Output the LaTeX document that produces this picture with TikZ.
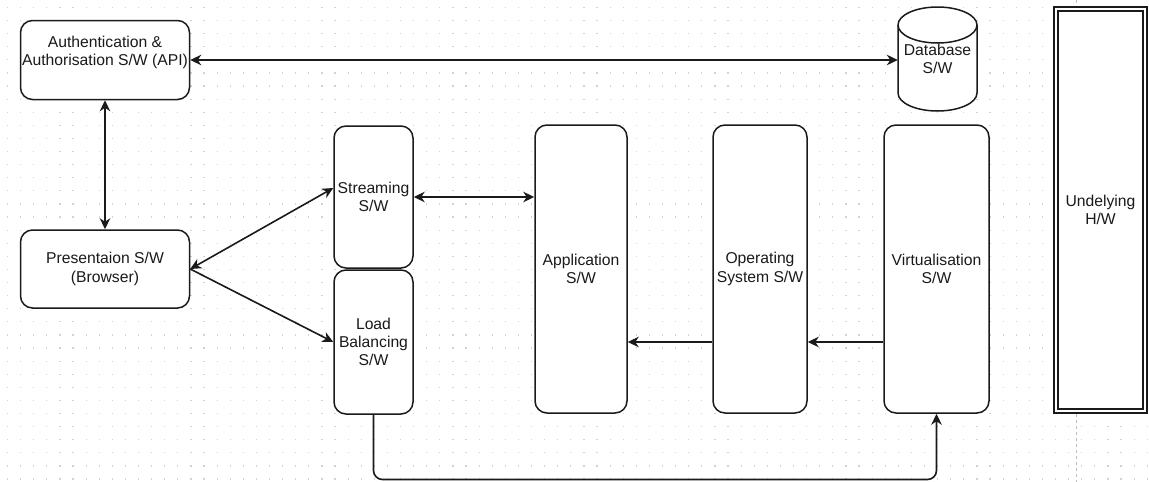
\documentclass[tikz,border=0pt]{standalone}
\usepackage{fontspec}
\setmainfont{Liberation Sans}
\usetikzlibrary{arrows.meta}
\definecolor{gridc}{HTML}{D2D2D2}
\definecolor{pagec}{HTML}{BDBDBD}
\definecolor{inkc}{HTML}{1A1A1A}
\begin{document}
\begin{tikzpicture}[x=1pt,y=-1pt,
  lbl/.style={align=center, font=\fontsize{15.7}{18.3}\selectfont, text=inkc, inner sep=0pt},
  box/.style={lbl, draw=inkc, fill=white, line width=1.5pt, rounded corners=12pt},
  conn/.style={draw=inkc, line width=1.6pt},
  arr/.style={-{Stealth[length=11pt,width=10.5pt,inset=3.5pt]}},
  biarr/.style={{Stealth[length=11pt,width=10.5pt,inset=3.5pt]}-{Stealth[length=11pt,width=10.5pt,inset=3.5pt]}}
]
\useasboundingbox (0,0) rectangle (1149,482);
% background grid
\foreach \i in {0,...,87}{
  \foreach \j in {0,...,36}{
    \fill[gridc] ({7.5+13.1*\i-0.6},{7.4+13.1*\j-0.6}) rectangle ++(1.2,1.2);
  }
}
% page break line
\draw[pagec, line width=0.8pt, dash pattern=on 3pt off 3pt] (1076,0) -- (1076,482);

% boxes
\node[box, minimum width=169pt, minimum height=79pt] (auth) at (105,60) {Authentication \&\\Authorisation S/W (API)\\\mbox{}};
\node[box, minimum width=169pt, minimum height=78pt] (pres) at (105,269) {Presentaion S/W\\(Browser)};
\node[box, minimum width=79pt, minimum height=142pt] (stream) at (373.5,197) {Streaming\\S/W};
\node[box, minimum width=79pt, minimum height=144pt] (lb) at (373.5,342) {Load\\Balancing\\S/W};
\node[box, minimum width=92pt, minimum height=288pt] (app) at (581,269) {Application\\S/W};
\node[box, minimum width=94pt, minimum height=288pt] (os) at (760,269) {Operating\\System S/W};
\node[box, minimum width=105pt, minimum height=288pt] (virt) at (936.5,269) {Virtualisation\\S/W};

% database cylinder
\filldraw[fill=white, draw=inkc, line width=1.5pt]
  (898,25) -- (898,93)
  .. controls (898,102.94) and (915.68,111) .. (937.5,111)
  .. controls (959.32,111) and (977,102.94) .. (977,93)
  -- (977,25)
  .. controls (977,15.06) and (959.32,7) .. (937.5,7)
  .. controls (915.68,7) and (898,15.06) .. (898,25) -- cycle;
\draw[draw=inkc, line width=1.5pt]
  (898,25) .. controls (898,34.94) and (915.68,43) .. (937.5,43)
  .. controls (959.32,43) and (977,34.94) .. (977,25);
\node[lbl, minimum width=79pt, minimum height=104pt] (db) at (937.5,59) {Database\\S/W};

% underlying hardware
\node[lbl, draw=inkc, fill=white, line width=1.3pt, double=white, double distance=2.7pt,
      minimum width=89pt, minimum height=402pt] (hw) at (1100.5,210) {Undelying\\H/W};

% connectors
\draw[conn, biarr] (auth.east) -- (auth.east -| db.west);
\draw[conn, biarr] (auth.south) -- (pres.north);
\draw[conn, biarr] (pres.east) -- ([yshift=9pt]stream.west);
\draw[conn, arr] (pres.east) -- (lb.west);
\draw[conn, biarr] (stream.east) -- (stream.east -| app.west);
\draw[conn, arr] (lb.east -| os.west) -- (lb.east -| app.east);
\draw[conn, arr] (lb.east -| virt.west) -- (lb.east -| os.east);
\coordinate (bot) at (373.5,479.5);
\draw[conn, arr, rounded corners=9pt] (lb.south) -- (lb.south |- bot) -- (virt.south |- bot) -- (virt.south);
\end{tikzpicture}
\end{document}
